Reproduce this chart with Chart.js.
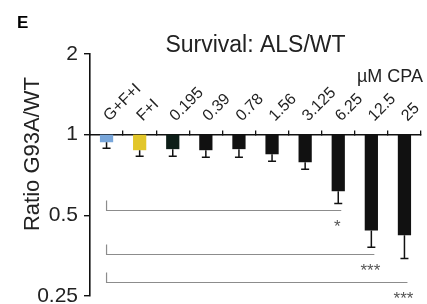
<!DOCTYPE html>
<html>
<head>
<meta charset="utf-8">
<script src="https://cdn.jsdelivr.net/npm/chart.js@4.4.1/dist/chart.umd.min.js"></script>
<style>
  body { margin: 0; background: #fff; }
  #wrap { width: 427px; height: 304px; }
</style>
</head>
<body>
<div id="wrap"><canvas id="survival" width="427" height="304"></canvas></div>
<script>
// categories along the x axis (controls, then uM CPA)
var categories = ['G+F+I', 'F+I', '0.195', '0.39', '0.78', '1.56', '3.125', '6.25', '12.5', '25'];
// mean ratio G93A/WT per condition (bars hang down from 1)
var ratioMeans = [0.937, 0.875, 0.883, 0.875, 0.883, 0.845, 0.789, 0.615, 0.439, 0.421];
// lower end of the error bar
var ratioErrLow = [0.890, 0.831, 0.831, 0.824, 0.824, 0.796, 0.743, 0.554, 0.380, 0.345];
var barColors = ['#78a6da', '#e2c62a', '#0d1e18', '#111111', '#111111', '#111111', '#111111', '#111111', '#111111', '#111111'];
var yTicks = [0.25, 0.5, 1, 2];
// significance brackets: from first bar to bar index, drawn at a ratio level
var compareTo = [7, 8, 9];
var compareLevel = [0.522, 0.36, 0.281];
var compareStars = ['*', '***', '***'];

var FONT = "'Liberation Sans', Arial, Helvetica, sans-serif";

var extrasPlugin = {
    id: 'extras',
    afterDatasetsDraw: function(chart) {
        var ctx = chart.ctx;
        var xs = chart.scales.x;
        var ys = chart.scales.y;
        ctx.save();

        // error bars
        ctx.strokeStyle = '#111';
        ctx.lineWidth = 1.5;
        for (var i = 0; i < categories.length; i++) {
            var x = xs.getPixelForValue(i);
            var y1 = ys.getPixelForValue(ratioMeans[i]);
            var y2 = ys.getPixelForValue(ratioErrLow[i]);
            ctx.beginPath();
            ctx.moveTo(x, y1);
            ctx.lineTo(x, y2);
            ctx.moveTo(x - 4, y2);
            ctx.lineTo(x + 4, y2);
            ctx.stroke();
        }

        // brackets + stars
        ctx.strokeStyle = '#8c8c8c';
        ctx.lineWidth = 1.2;
        ctx.fillStyle = '#555';
        ctx.font = '17px ' + FONT;
        ctx.textAlign = 'center';
        ctx.textBaseline = 'alphabetic';
        var left = xs.getPixelForValue(0);
        for (var j = 0; j < compareTo.length; j++) {
            var yy = Math.round(ys.getPixelForValue(compareLevel[j])) + 0.5;
            var right = xs.getPixelForValue(compareTo[j]) + 3;
            ctx.beginPath();
            ctx.moveTo(left, yy - 10);
            ctx.lineTo(left, yy);
            ctx.lineTo(right, yy);
            ctx.stroke();
            ctx.fillText(compareStars[j], xs.getPixelForValue(compareTo[j]) - 1, yy + 21);
        }
        ctx.restore();
    },
    afterDraw: function(chart) {
        var ctx = chart.ctx;
        var xs = chart.scales.x;
        var ys = chart.scales.y;
        ctx.save();
        ctx.fillStyle = '#222';

        // category labels, slanted, above the line at 1
        ctx.font = '16px ' + FONT;
        ctx.textAlign = 'left';
        ctx.textBaseline = 'alphabetic';
        var base = ys.getPixelForValue(1);
        categories.forEach(function(lab, i) {
            ctx.save();
            ctx.translate(xs.getPixelForValue(i) + 3, base - 13);
            ctx.rotate(-Math.PI / 4);
            ctx.fillText(lab, 0, 0);
            ctx.restore();
        });

        ctx.font = '18px ' + FONT;
        ctx.textAlign = 'right';
        ctx.fillText('\u00b5M CPA', 423, 82);

        // y title
        ctx.save();
        ctx.translate(33, 154);
        ctx.rotate(-Math.PI / 2);
        ctx.font = '22px ' + FONT;
        ctx.textAlign = 'center';
        ctx.textBaseline = 'middle';
        ctx.fillText('Ratio G93A/WT', 0, 0);
        ctx.restore();

        // panel letter
        ctx.font = 'bold 17px ' + FONT;
        ctx.textAlign = 'left';
        ctx.fillStyle = '#000';
        ctx.fillText('E', 17, 28);
        ctx.restore();
    }
};

var config = {
    type: 'bar',
    data: {
        labels: categories,
        datasets: [{
            data: categories.map(function(c, i) { return [ratioMeans[i], 1]; }),
            backgroundColor: barColors,
            borderWidth: 0,
            barPercentage: 0.4,
            categoryPercentage: 1
        }]
    },
    options: {
        responsive: false,
        animation: false,
        layout: { padding: { top: 31, right: 6, bottom: 8, left: 0 } },
        plugins: {
            legend: { display: false },
            tooltip: { enabled: false },
            title: {
                display: true,
                text: 'Survival: ALS/WT',
                fullSize: false,
                color: '#222',
                font: { family: FONT, size: 23, weight: 'normal', lineHeight: 1 },
                padding: { top: 3, bottom: -3 }
            }
        },
        scales: {
            x: {
                type: 'category',
                position: { y: 1 },
                offset: true,
                z: 1,
                grid: { offset: true, drawOnChartArea: false, drawTicks: true, tickLength: -5, color: '#111', lineWidth: 1.3 },
                border: { color: '#111', width: 1.6 },
                ticks: { display: false }
            },
            y: {
                type: 'logarithmic',
                min: 0.25,
                max: 2,
                grid: { drawOnChartArea: false, tickLength: 6, color: '#111', lineWidth: 1.4 },
                border: { color: '#111', width: 1.6 },
                ticks: {
                    padding: 6,
                    color: '#222',
                    font: { family: FONT, size: 21 },
                    callback: function(v) { return String(v); }
                },
                afterBuildTicks: function(scale) {
                    scale.ticks = yTicks.map(function(v) { return { value: v }; });
                },
                afterFit: function(scale) {
                    scale.width = 90;
                    scale.paddingTop = 0;
                    scale.paddingBottom = 0;
                }
            }
        }
    },
    plugins: [extrasPlugin]
};

var ctx = document.getElementById('survival').getContext('2d');
var survivalChart = new Chart(ctx, config);
</script>
</body>
</html>
